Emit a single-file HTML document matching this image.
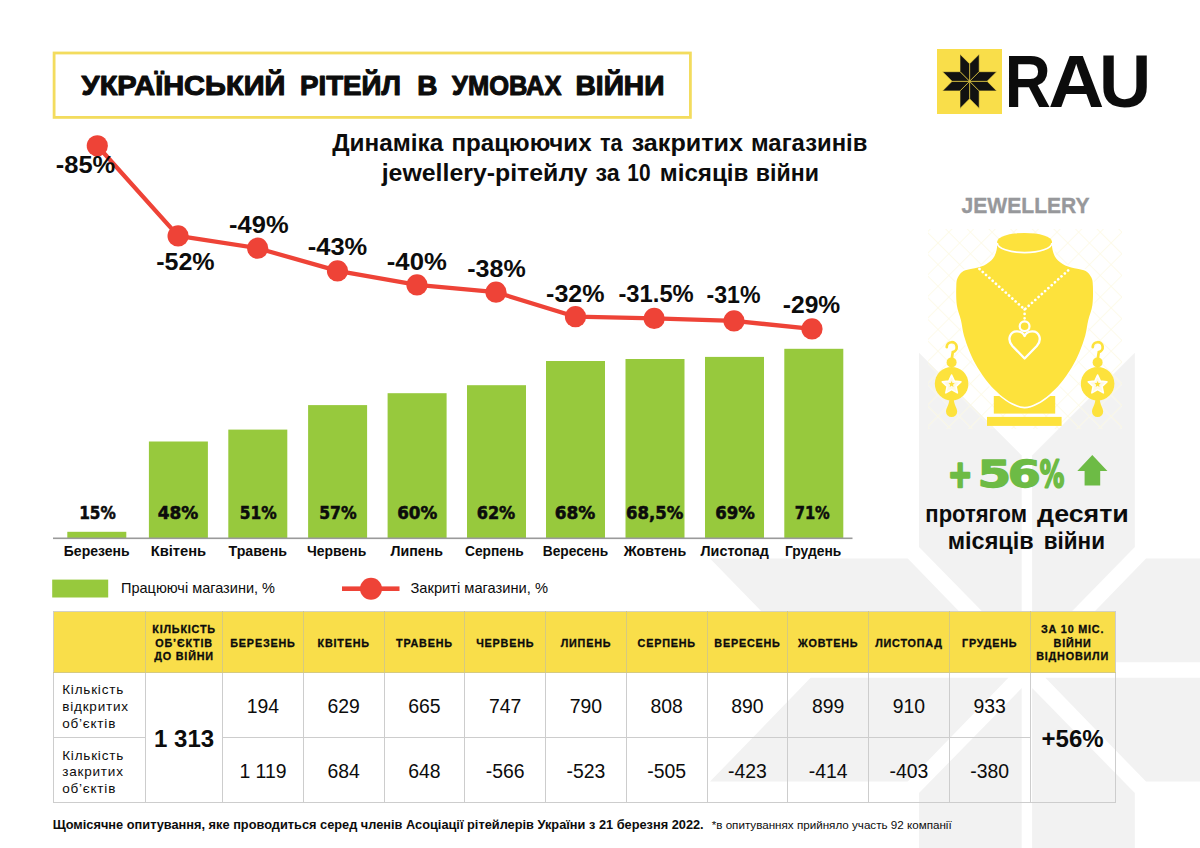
<!DOCTYPE html>
<html lang="uk"><head><meta charset="utf-8"><title>Український рітейл в умовах війни</title><style>
html,body{margin:0;padding:0;background:#fff;}
body{width:1200px;height:848px;overflow:hidden;position:relative;font-family:"Liberation Sans", sans-serif;color:#0c0c0c;}
.art{position:absolute;left:0;top:0;display:block;}
.tbl{position:absolute;left:52.6px;top:611.3px;border-collapse:collapse;table-layout:fixed;width:1062.5px;}
.tbl th,.tbl td{border:1.4px solid #cdcdcd;padding:0;text-align:center;vertical-align:middle;box-sizing:border-box;}
.tbl th{background:#F9DE4A;height:60.6px;font-size:10.8px;line-height:13.7px;font-weight:bold;letter-spacing:0.8px;border-color:#d6ca80;border-top-color:#d2d0c4;padding-top:3px;-webkit-text-stroke:0.3px #0c0c0c;}
.tbl th:first-child{border-left-color:#cdcdcd} .tbl th:last-child{border-right-color:#cdcdcd}
.tbl td{height:65.2px;font-size:19.4px;padding-top:3px;}
.tbl td.lbl{text-align:left;padding-left:8.6px;font-size:13.5px;line-height:16.75px;letter-spacing:0.8px;padding-top:5px;}
.tbl td.big{font-size:24px;font-weight:bold;padding-top:2px;}
.tbl td.big2{font-size:24px;font-weight:bold;padding-top:2px;}
</style></head>
<body>
<svg class="art" width="1200" height="848" viewBox="0 0 1200 848">
<g fill="#F2F2F2"><polygon points="1032.1,651.9 1032.1,455.5 1134.8,352.8 1134.8,547.0"/><polygon points="1045.4,662.2 1146.0,558.4 1343.8,558.4 1243.2,662.2"/><polygon points="1032.1,688.1 1032.1,884.5 1134.8,987.2 1134.8,793.0"/><polygon points="1045.4,677.8 1146.0,781.6 1343.8,781.6 1243.2,677.8"/><polygon points="1021.7,651.9 1021.7,455.5 919.0,352.8 919.0,547.0"/><polygon points="1008.4,662.2 907.8,558.4 710.0,558.4 810.6,662.2"/><polygon points="1021.7,688.1 1021.7,884.5 919.0,987.2 919.0,793.0"/><polygon points="1008.4,677.8 907.8,781.6 710.0,781.6 810.6,677.8"/></g>
<rect x="54.1" y="53" width="636.3" height="64.4" fill="#fff" stroke="#F3DC5E" stroke-width="2.8"/>
<text y="94.5" font-family='"Liberation Sans", sans-serif' font-size="28" font-weight="bold" fill="#0c0c0c" stroke="#0c0c0c" stroke-width="1.1" stroke-linejoin="round"><tspan x="81.6" textLength="203.76" lengthAdjust="spacingAndGlyphs">УКРАЇНСЬКИЙ</tspan> <tspan x="299.98" textLength="100.94" lengthAdjust="spacingAndGlyphs">РІТЕЙЛ</tspan> <tspan x="417.35" textLength="20.19" lengthAdjust="spacingAndGlyphs">В</tspan> <tspan x="452.09" textLength="109.43" lengthAdjust="spacingAndGlyphs">УМОВАХ</tspan> <tspan x="575.48" textLength="89.0" lengthAdjust="spacingAndGlyphs">ВІЙНИ</tspan></text>
<text y="151.3" font-family='"Liberation Sans", sans-serif' font-size="23" font-weight="bold" fill="#0c0c0c"><tspan x="332.2" textLength="111.1" lengthAdjust="spacingAndGlyphs">Динаміка</tspan> <tspan x="451.53" textLength="140.08" lengthAdjust="spacingAndGlyphs">працюючих</tspan> <tspan x="599.89" textLength="22.53" lengthAdjust="spacingAndGlyphs">та</tspan> <tspan x="631.69" textLength="111.25" lengthAdjust="spacingAndGlyphs">закритих</tspan> <tspan x="751.04" textLength="116.34" lengthAdjust="spacingAndGlyphs">магазинів</tspan></text>
<text y="180.5" font-family='"Liberation Sans", sans-serif' font-size="23" font-weight="bold" fill="#0c0c0c"><tspan x="381.69" textLength="206.01" lengthAdjust="spacingAndGlyphs">jewellery-рітейлу</tspan> <tspan x="595.58" textLength="24.23" lengthAdjust="spacingAndGlyphs">за</tspan> <tspan x="627.35" textLength="23.22" lengthAdjust="spacingAndGlyphs">10</tspan> <tspan x="659.75" textLength="88.71" lengthAdjust="spacingAndGlyphs">місяців</tspan> <tspan x="755.85" textLength="63.01" lengthAdjust="spacingAndGlyphs">війни</tspan></text>
<rect x="937" y="49" width="65" height="65" fill="#F9DE4A"/>
<g fill="#111" stroke="#F9DE4A" stroke-width="0.6"><polygon points="969.60,81.30 969.60,98.80 979.20,108.40 979.20,90.90"/><polygon points="969.60,81.30 987.10,81.30 996.70,90.90 979.20,90.90"/><polygon points="969.60,81.30 969.60,63.80 979.20,54.20 979.20,71.70"/><polygon points="969.60,81.30 987.10,81.30 996.70,71.70 979.20,71.70"/><polygon points="969.60,81.30 969.60,98.80 960.00,108.40 960.00,90.90"/><polygon points="969.60,81.30 952.10,81.30 942.50,90.90 960.00,90.90"/><polygon points="969.60,81.30 969.60,63.80 960.00,54.20 960.00,71.70"/><polygon points="969.60,81.30 952.10,81.30 942.50,71.70 960.00,71.70"/></g>
<text y="106.7" font-family='"Liberation Sans", sans-serif' font-size="73.5" font-weight="bold" fill="#0c0c0c"><tspan x="1004.78" textLength="46.09" lengthAdjust="spacingAndGlyphs">R</tspan><tspan x="1048.35" textLength="56.0" lengthAdjust="spacingAndGlyphs">A</tspan><tspan x="1098.94" textLength="52.22" lengthAdjust="spacingAndGlyphs">U</tspan></text>
<rect x="67.3" y="531.8" width="59" height="6.2000000000000455" fill="#97C93D"/>
<rect x="148.9" y="441.5" width="59" height="96.5" fill="#97C93D"/>
<rect x="228.3" y="429.6" width="59" height="108.39999999999998" fill="#97C93D"/>
<rect x="308.1" y="405.1" width="59" height="132.89999999999998" fill="#97C93D"/>
<rect x="387.6" y="393.2" width="59" height="144.8" fill="#97C93D"/>
<rect x="467" y="385.2" width="59" height="152.8" fill="#97C93D"/>
<rect x="546" y="361" width="59" height="177" fill="#97C93D"/>
<rect x="625.5" y="359" width="59" height="179" fill="#97C93D"/>
<rect x="705" y="356.9" width="59" height="181.10000000000002" fill="#97C93D"/>
<rect x="784.3" y="348.8" width="59" height="189.2" fill="#97C93D"/>
<rect x="53" y="537.5" width="799.5" height="1.6" fill="#9a9a9a"/>
<text x="79.2" y="519.3" font-family='"DejaVu Sans", "Liberation Sans", sans-serif' font-size="17.6" font-weight="bold" fill="#0c0c0c" text-anchor="start" textLength="36.6" lengthAdjust="spacingAndGlyphs" stroke="#0c0c0c" stroke-width="0.55">15%</text>
<text x="63.8" y="555.6" font-family='"Liberation Sans", sans-serif' font-size="14" font-weight="bold" fill="#0c0c0c" text-anchor="start" textLength="65.8" lengthAdjust="spacingAndGlyphs">Березень</text>
<text x="157.7" y="519.3" font-family='"DejaVu Sans", "Liberation Sans", sans-serif' font-size="17.6" font-weight="bold" fill="#0c0c0c" text-anchor="start" textLength="40.6" lengthAdjust="spacingAndGlyphs" stroke="#0c0c0c" stroke-width="0.55">48%</text>
<text x="150.65" y="555.6" font-family='"Liberation Sans", sans-serif' font-size="14" font-weight="bold" fill="#0c0c0c" text-anchor="start" textLength="55.5" lengthAdjust="spacingAndGlyphs">Квітень</text>
<text x="239.7" y="519.3" font-family='"DejaVu Sans", "Liberation Sans", sans-serif' font-size="17.6" font-weight="bold" fill="#0c0c0c" text-anchor="start" textLength="36.9" lengthAdjust="spacingAndGlyphs" stroke="#0c0c0c" stroke-width="0.55">51%</text>
<text x="228.55" y="555.6" font-family='"Liberation Sans", sans-serif' font-size="14" font-weight="bold" fill="#0c0c0c" text-anchor="start" textLength="58.5" lengthAdjust="spacingAndGlyphs">Травень</text>
<text x="319.2" y="519.3" font-family='"DejaVu Sans", "Liberation Sans", sans-serif' font-size="17.6" font-weight="bold" fill="#0c0c0c" text-anchor="start" textLength="37.4" lengthAdjust="spacingAndGlyphs" stroke="#0c0c0c" stroke-width="0.55">57%</text>
<text x="307" y="555.6" font-family='"Liberation Sans", sans-serif' font-size="14" font-weight="bold" fill="#0c0c0c" text-anchor="start" textLength="59.3" lengthAdjust="spacingAndGlyphs">Червень</text>
<text x="397.2" y="519.3" font-family='"DejaVu Sans", "Liberation Sans", sans-serif' font-size="17.6" font-weight="bold" fill="#0c0c0c" text-anchor="start" textLength="40.1" lengthAdjust="spacingAndGlyphs" stroke="#0c0c0c" stroke-width="0.55">60%</text>
<text x="390.5" y="555.6" font-family='"Liberation Sans", sans-serif' font-size="14" font-weight="bold" fill="#0c0c0c" text-anchor="start" textLength="52.5" lengthAdjust="spacingAndGlyphs">Липень</text>
<text x="476.7" y="519.3" font-family='"DejaVu Sans", "Liberation Sans", sans-serif' font-size="17.6" font-weight="bold" fill="#0c0c0c" text-anchor="start" textLength="38.6" lengthAdjust="spacingAndGlyphs" stroke="#0c0c0c" stroke-width="0.55">62%</text>
<text x="465" y="555.6" font-family='"Liberation Sans", sans-serif' font-size="14" font-weight="bold" fill="#0c0c0c" text-anchor="start" textLength="58.8" lengthAdjust="spacingAndGlyphs">Серпень</text>
<text x="554.7" y="519.3" font-family='"DejaVu Sans", "Liberation Sans", sans-serif' font-size="17.6" font-weight="bold" fill="#0c0c0c" text-anchor="start" textLength="40.6" lengthAdjust="spacingAndGlyphs" stroke="#0c0c0c" stroke-width="0.55">68%</text>
<text x="542.75" y="555.6" font-family='"Liberation Sans", sans-serif' font-size="14" font-weight="bold" fill="#0c0c0c" text-anchor="start" textLength="65.5" lengthAdjust="spacingAndGlyphs">Вересень</text>
<text x="626.0" y="519.3" font-family='"DejaVu Sans", "Liberation Sans", sans-serif' font-size="17.6" font-weight="bold" fill="#0c0c0c" text-anchor="start" textLength="57.4" lengthAdjust="spacingAndGlyphs" stroke="#0c0c0c" stroke-width="0.55">68,5%</text>
<text x="623.8" y="555.6" font-family='"Liberation Sans", sans-serif' font-size="14" font-weight="bold" fill="#0c0c0c" text-anchor="start" textLength="62.5" lengthAdjust="spacingAndGlyphs">Жовтень</text>
<text x="715.2" y="519.3" font-family='"DejaVu Sans", "Liberation Sans", sans-serif' font-size="17.6" font-weight="bold" fill="#0c0c0c" text-anchor="start" textLength="39.6" lengthAdjust="spacingAndGlyphs" stroke="#0c0c0c" stroke-width="0.55">69%</text>
<text x="700.5" y="555.6" font-family='"Liberation Sans", sans-serif' font-size="14" font-weight="bold" fill="#0c0c0c" text-anchor="start" textLength="68.3" lengthAdjust="spacingAndGlyphs">Листопад</text>
<text x="794.7" y="519.3" font-family='"DejaVu Sans", "Liberation Sans", sans-serif' font-size="17.6" font-weight="bold" fill="#0c0c0c" text-anchor="start" textLength="35.1" lengthAdjust="spacingAndGlyphs" stroke="#0c0c0c" stroke-width="0.55">71%</text>
<text x="785" y="555.6" font-family='"Liberation Sans", sans-serif' font-size="14" font-weight="bold" fill="#0c0c0c" text-anchor="start" textLength="56.3" lengthAdjust="spacingAndGlyphs">Грудень</text>
<polyline fill="none" stroke="#EE4337" stroke-width="4.3" stroke-linejoin="round" points="97.3,145.8 178.1,235.9 257.7,248.2 337.5,270.9 417,284.9 496,292.2 575.5,316.7 654.2,318.4 734,320.9 812,328.9"/>
<circle cx="97.3" cy="145.8" r="10.6" fill="#EE4337"/>
<circle cx="178.1" cy="235.9" r="10.6" fill="#EE4337"/>
<circle cx="257.7" cy="248.2" r="10.6" fill="#EE4337"/>
<circle cx="337.5" cy="270.9" r="10.6" fill="#EE4337"/>
<circle cx="417" cy="284.9" r="10.6" fill="#EE4337"/>
<circle cx="496" cy="292.2" r="10.6" fill="#EE4337"/>
<circle cx="575.5" cy="316.7" r="10.6" fill="#EE4337"/>
<circle cx="654.2" cy="318.4" r="10.6" fill="#EE4337"/>
<circle cx="734" cy="320.9" r="10.6" fill="#EE4337"/>
<circle cx="812" cy="328.9" r="10.6" fill="#EE4337"/>
<text x="55.75" y="172.8" font-family='"Liberation Sans", sans-serif' font-size="23" font-weight="bold" fill="#0c0c0c" text-anchor="start" textLength="59.5" lengthAdjust="spacingAndGlyphs">-85%</text>
<text x="156.15" y="270.0" font-family='"Liberation Sans", sans-serif' font-size="23" font-weight="bold" fill="#0c0c0c" text-anchor="start" textLength="58.5" lengthAdjust="spacingAndGlyphs">-52%</text>
<text x="229.05" y="232.5" font-family='"Liberation Sans", sans-serif' font-size="23" font-weight="bold" fill="#0c0c0c" text-anchor="start" textLength="59.5" lengthAdjust="spacingAndGlyphs">-49%</text>
<text x="307.75" y="255.3" font-family='"Liberation Sans", sans-serif' font-size="23" font-weight="bold" fill="#0c0c0c" text-anchor="start" textLength="59.5" lengthAdjust="spacingAndGlyphs">-43%</text>
<text x="386.8" y="270.0" font-family='"Liberation Sans", sans-serif' font-size="23" font-weight="bold" fill="#0c0c0c" text-anchor="start" textLength="60" lengthAdjust="spacingAndGlyphs">-40%</text>
<text x="467.25" y="277.0" font-family='"Liberation Sans", sans-serif' font-size="23" font-weight="bold" fill="#0c0c0c" text-anchor="start" textLength="58.5" lengthAdjust="spacingAndGlyphs">-38%</text>
<text x="546.05" y="301.5" font-family='"Liberation Sans", sans-serif' font-size="23" font-weight="bold" fill="#0c0c0c" text-anchor="start" textLength="58.5" lengthAdjust="spacingAndGlyphs">-32%</text>
<text x="618.45" y="302.2" font-family='"Liberation Sans", sans-serif' font-size="23" font-weight="bold" fill="#0c0c0c" text-anchor="start" textLength="75.3" lengthAdjust="spacingAndGlyphs">-31.5%</text>
<text x="706.5" y="303.3" font-family='"Liberation Sans", sans-serif' font-size="23" font-weight="bold" fill="#0c0c0c" text-anchor="start" textLength="54" lengthAdjust="spacingAndGlyphs">-31%</text>
<text x="782.75" y="312.7" font-family='"Liberation Sans", sans-serif' font-size="23" font-weight="bold" fill="#0c0c0c" text-anchor="start" textLength="57.5" lengthAdjust="spacingAndGlyphs">-29%</text>
<rect x="52.2" y="579.6" width="56" height="17.9" fill="#97C93D"/>
<text x="121" y="592.7" font-family='"Liberation Sans", sans-serif' font-size="14.2" font-weight="normal" fill="#0c0c0c" text-anchor="start" textLength="154" lengthAdjust="spacingAndGlyphs">Працюючі магазини, %</text>
<rect x="342" y="586.4" width="57.5" height="4.6" fill="#EE4337"/><circle cx="371" cy="588.7" r="11" fill="#EE4337"/>
<text x="410.5" y="592.7" font-family='"Liberation Sans", sans-serif' font-size="14.2" font-weight="normal" fill="#0c0c0c" text-anchor="start" textLength="137.5" lengthAdjust="spacingAndGlyphs">Закриті магазини, %</text>
<text x="961.6" y="213" font-family='"Liberation Sans", sans-serif' font-size="21.6" font-weight="bold" fill="#97989B" text-anchor="start" textLength="128" lengthAdjust="spacingAndGlyphs" stroke="#97989B" stroke-width="0.35">JEWELLERY</text>
<text y="487" font-family='"DejaVu Sans", "Liberation Sans", sans-serif' font-size="36.6" font-weight="bold" fill="#6DBB45" stroke="#6DBB45" stroke-width="1.3" stroke-linejoin="round"><tspan x="947.94" textLength="24.36" lengthAdjust="spacingAndGlyphs" stroke-width="2.6">+</tspan><tspan x="977.48" textLength="33.69" lengthAdjust="spacingAndGlyphs" stroke-width="1.3">5</tspan><tspan x="1007.78" textLength="33.08" lengthAdjust="spacingAndGlyphs" stroke-width="1.3">6</tspan><tspan x="1039.84" textLength="24.54" lengthAdjust="spacingAndGlyphs" stroke-width="2.0">%</tspan></text>
<polygon points="1092.3,455.1 1107.4,471.1 1100.2,471.1 1100.2,485.4 1084.6,485.4 1084.6,471.1 1077.3,471.1" fill="#6DBB45"/>
<text y="521.9" font-family='"Liberation Sans", sans-serif' font-size="24" font-weight="bold" fill="#0c0c0c"><tspan x="925.33" textLength="101.61" lengthAdjust="spacingAndGlyphs">протягом</tspan> <tspan x="1037.13" textLength="91.71" lengthAdjust="spacingAndGlyphs">десяти</tspan></text>
<text y="549" font-family='"Liberation Sans", sans-serif' font-size="24" font-weight="bold" fill="#0c0c0c"><tspan x="947.75" textLength="85.96" lengthAdjust="spacingAndGlyphs">місяців</tspan> <tspan x="1043.81" textLength="61.15" lengthAdjust="spacingAndGlyphs">війни</tspan></text>
<defs><pattern id="lat" width="15.3" height="15.3" patternUnits="userSpaceOnUse" patternTransform="translate(938 242.3) rotate(45)"><path d="M0 0H16M0 0V16" stroke="#F6ECA8" stroke-width="1.4" fill="none"/></pattern><pattern id="latw" width="15.3" height="15.3" patternUnits="userSpaceOnUse" patternTransform="translate(938 242.3) rotate(45)"><path d="M0 0H16M0 0V16" stroke="#fff" stroke-width="2.2" fill="none"/></pattern></defs>
<rect x="928" y="229" width="194" height="200" fill="url(#latw)" opacity="0.6"/>
<rect x="928" y="229" width="194" height="200" fill="url(#lat)" opacity="0.32"/>
<rect x="993.8" y="396" width="61.4" height="17.6" fill="#FDE23C"/>
<rect x="987" y="416.9" width="74.6" height="9" fill="#FDE23C"/>
<path d="M997.3,241.5 C997.2,242.9 997.3,247.2 996.6,250.0 C995.9,252.8 995.1,255.9 993.0,258.5 C990.9,261.1 987.5,263.8 984.0,265.5 C980.5,267.2 975.4,267.9 972.0,268.8 C968.6,269.7 965.9,269.6 963.5,271.0 C961.1,272.4 959.0,275.0 957.8,277.5 C956.6,280.0 956.5,281.4 956.3,286.0 C956.1,290.6 956.0,299.3 956.8,305.0 C957.6,310.7 959.7,314.9 960.9,320.0 C962.1,325.1 962.5,330.5 964.0,335.8 C965.5,341.1 967.4,346.4 969.6,351.7 C971.9,357.0 974.3,362.2 977.5,367.5 C980.7,372.8 984.9,378.8 988.6,383.3 C992.3,387.8 995.8,391.1 999.7,394.4 C1003.7,397.7 1008.1,401.0 1012.3,403.1 C1016.4,405.2 1020.5,406.8 1024.6,406.8 C1028.7,406.8 1032.8,405.2 1036.9,403.1 C1041.0,401.0 1045.5,397.7 1049.5,394.4 C1053.4,391.1 1056.9,387.8 1060.6,383.3 C1064.3,378.8 1068.5,372.8 1071.7,367.5 C1074.9,362.2 1077.3,357.0 1079.6,351.7 C1081.8,346.4 1083.7,341.1 1085.2,335.8 C1086.6,330.5 1087.1,325.1 1088.3,320.0 C1089.5,314.9 1091.6,310.7 1092.4,305.0 C1093.2,299.3 1093.1,290.6 1092.9,286.0 C1092.7,281.4 1092.6,280.0 1091.4,277.5 C1090.2,275.0 1088.1,272.4 1085.7,271.0 C1083.3,269.6 1080.6,269.7 1077.2,268.8 C1073.8,267.9 1068.7,267.2 1065.2,265.5 C1061.7,263.8 1058.3,261.1 1056.2,258.5 C1054.1,255.9 1053.3,252.8 1052.6,250.0 C1051.9,247.2 1052.0,242.9 1051.9,241.5 Z" fill="#FDE23C" stroke="#fff" stroke-width="3.2" paint-order="stroke"/>
<ellipse cx="1024.6" cy="241.5" rx="27.3" ry="8.6" fill="#FDE23C"/>
<path d="M997.3,243 A27.3 9.6 0 0 0 1051.8999999999999,243" fill="none" stroke="#fff" stroke-width="1.7"/>
<path d="M979.5,269 L1024.6,309.5 L1069.7,269 M1024.6,309.5 V319" fill="none" stroke="#fff" stroke-width="2.7" stroke-linecap="round" stroke-dasharray="0.01 4.4"/>
<circle cx="1024.6" cy="326.3" r="4.9" fill="none" stroke="#fff" stroke-width="2.2"/>
<path d="M1024.6,358.5 L1012.3999999999999,346.0 C1006.5999999999999,339.5 1010.0999999999999,331.0 1017.0999999999999,331.3 C1021.0999999999999,331.5 1023.5999999999999,333.5 1024.6,336.0 C1025.6,333.5 1028.1,331.5 1032.1,331.3 C1039.1,331.0 1042.6,339.5 1036.8,346.0 Z" fill="#FDE23C" stroke="#fff" stroke-width="2.3" stroke-linejoin="round"/>
<g fill="#FDE23C"><path d="M946.7,347.09999999999997 A5 5 0 1 1 952.8000000000001,352.09999999999997 L951.6,359.7" fill="none" stroke="#FDE23C" stroke-width="2.7" stroke-linecap="round"/><circle cx="951.6" cy="362.4" r="5"/><circle cx="951.6" cy="383.7" r="16.8"/><path d="M949.4,398.7 C949.4,404.7 946.0,407.7 946.0,411.5 A5.6 5.6 0 0 0 957.2,411.5 C957.2,407.7 953.8000000000001,404.7 953.8000000000001,398.7Z"/><polygon points="951.60,375.10 954.36,381.10 960.92,381.87 956.07,386.35 957.36,392.83 951.60,389.60 945.84,392.83 947.13,386.35 942.28,381.87 948.84,381.10" fill="#FFFAE3" stroke="#fff" stroke-width="1.6" stroke-linejoin="round"/><polygon points="951.60,381.00 952.48,383.09 954.74,383.28 953.03,384.76 953.54,386.97 951.60,385.80 949.66,386.97 950.17,384.76 948.46,383.28 950.72,383.09" fill="#FDE23C"/></g>
<g fill="#FDE23C"><path d="M1092.6999999999998,347.09999999999997 A5 5 0 1 1 1098.8,352.09999999999997 L1097.6,359.7" fill="none" stroke="#FDE23C" stroke-width="2.7" stroke-linecap="round"/><circle cx="1097.6" cy="362.4" r="5"/><circle cx="1097.6" cy="383.7" r="16.8"/><path d="M1095.3999999999999,398.7 C1095.3999999999999,404.7 1092.0,407.7 1092.0,411.5 A5.6 5.6 0 0 0 1103.1999999999998,411.5 C1103.1999999999998,407.7 1099.8,404.7 1099.8,398.7Z"/><polygon points="1097.60,375.10 1100.36,381.10 1106.92,381.87 1102.07,386.35 1103.36,392.83 1097.60,389.60 1091.84,392.83 1093.13,386.35 1088.28,381.87 1094.84,381.10" fill="#FFFAE3" stroke="#fff" stroke-width="1.6" stroke-linejoin="round"/><polygon points="1097.60,381.00 1098.48,383.09 1100.74,383.28 1099.03,384.76 1099.54,386.97 1097.60,385.80 1095.66,386.97 1096.17,384.76 1094.46,383.28 1096.72,383.09" fill="#FDE23C"/></g>
<text x="52.7" y="829.3" font-family='"Liberation Sans", sans-serif' font-size="12" font-weight="bold" fill="#0c0c0c" text-anchor="start" textLength="651" lengthAdjust="spacingAndGlyphs">Щомісячне опитування, яке проводиться серед членів Асоціації рітейлерів України з 21 березня 2022.</text>
<text x="711.7" y="829.3" font-family='"Liberation Sans", sans-serif' font-size="11.5" font-weight="normal" fill="#0c0c0c" text-anchor="start" textLength="240" lengthAdjust="spacingAndGlyphs">*в опитуваннях прийняло участь 92 компанії</text>
</svg>
<table class="tbl"><colgroup><col style="width:92.5px"><col style="width:77.0px"><col style="width:80.75px"><col style="width:80.75px"><col style="width:80.75px"><col style="width:80.75px"><col style="width:80.75px"><col style="width:80.75px"><col style="width:80.75px"><col style="width:80.75px"><col style="width:80.75px"><col style="width:80.75px"><col style="width:85px"></colgroup>
<thead><tr><th></th><th>КІЛЬКІСТЬ<br>ОБ’ЄКТІВ<br>ДО ВІЙНИ</th><th>БЕРЕЗЕНЬ</th><th>КВІТЕНЬ</th><th>ТРАВЕНЬ</th><th>ЧЕРВЕНЬ</th><th>ЛИПЕНЬ</th><th>СЕРПЕНЬ</th><th>ВЕРЕСЕНЬ</th><th>ЖОВТЕНЬ</th><th>ЛИСТОПАД</th><th>ГРУДЕНЬ</th><th>ЗА 10 МІС.<br>ВІЙНИ<br>ВІДНОВИЛИ</th></tr></thead>
<tbody><tr><td class="lbl">Кількість<br>відкритих<br>об’єктів</td><td class="big" rowspan="2">1 313</td><td>194</td><td>629</td><td>665</td><td>747</td><td>790</td><td>808</td><td>890</td><td>899</td><td>910</td><td>933</td><td class="big2" rowspan="2">+56%</td></tr>
<tr><td class="lbl">Кількість<br>закритих<br>об’єктів</td><td>1 119</td><td>684</td><td>648</td><td>-566</td><td>-523</td><td>-505</td><td>-423</td><td>-414</td><td>-403</td><td>-380</td></tr></tbody></table>
</body></html>
